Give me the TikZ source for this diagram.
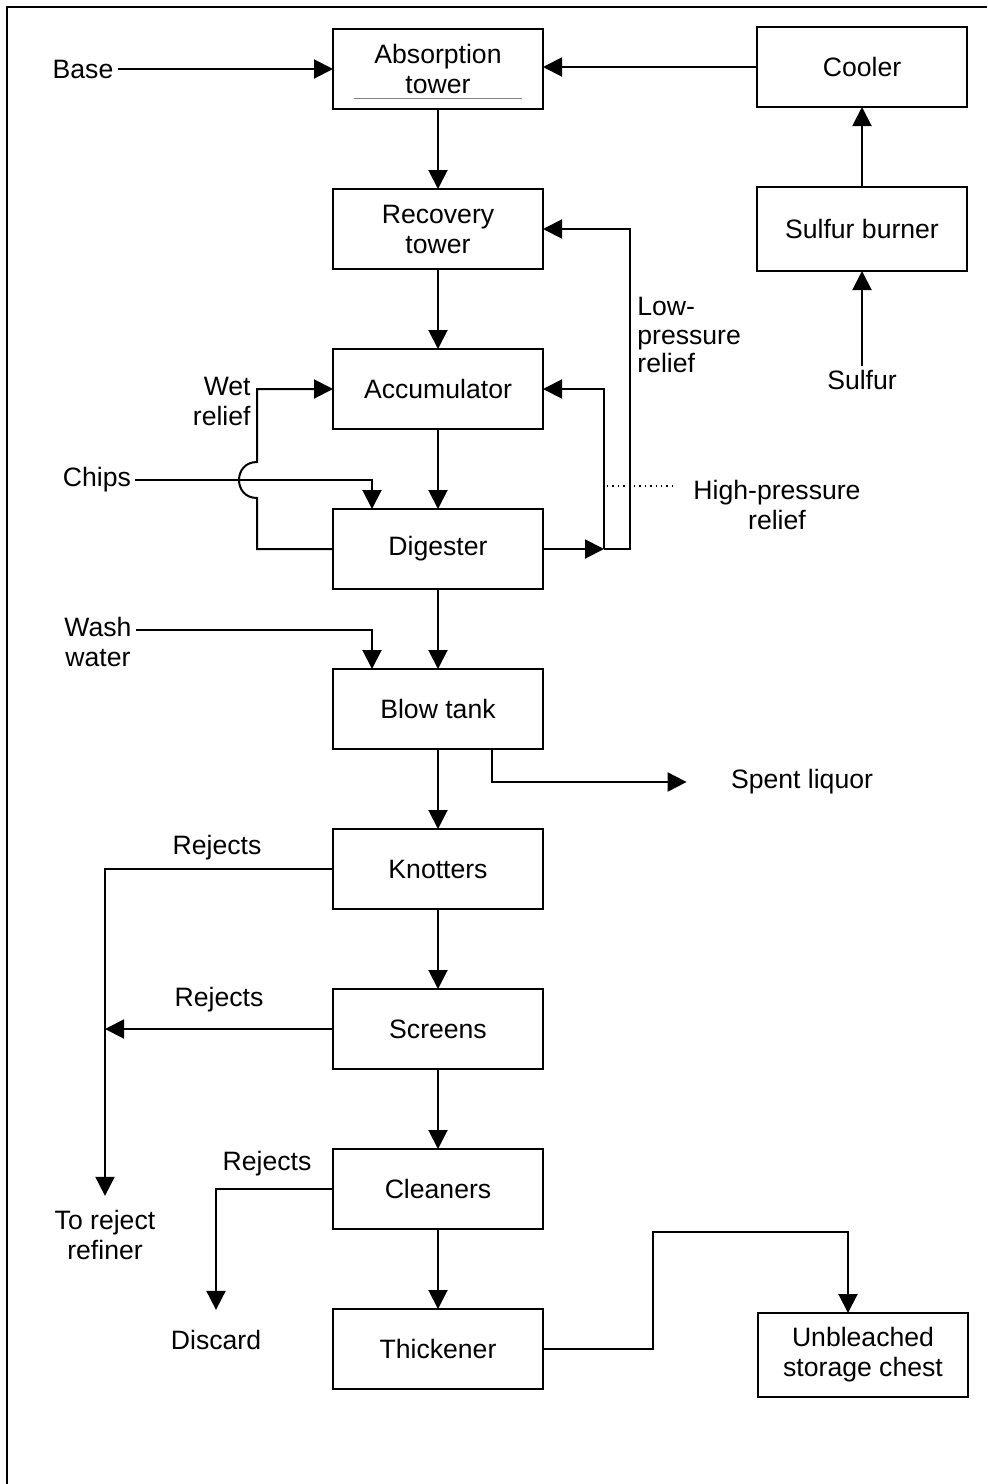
\documentclass[tikz,border=0pt]{standalone}
\usepackage{fontspec}
\setmainfont{Liberation Sans}
\usetikzlibrary{arrows.meta,positioning}

\begin{document}
\begin{tikzpicture}[
	   x=0.5pt, y=-0.5pt,
	   font=\fontsize{13.3pt}{15pt}\selectfont,
	   node distance=40pt,
	   box/.style    = { rectangle, draw, line width=1.2pt, minimum width=105pt,
	                     minimum height=40pt, inner sep=0pt, outer sep=0pt, align=center },
	   lbl/.style    = { inner sep=2pt, align=center },
	   flow/.style   = { draw, line width=1pt, -{Triangle[length=9.5pt,width=9.5pt]} },
	   leader/.style = { draw, line width=0.7pt, dotted },
	 ]
	  \useasboundingbox (0,0) rectangle (987,1484);
	  % frame
	  \draw[line width=1.2pt] (7,1484) -- (7,7) -- (987,7);

	  % main column
	  \node [box] (absorb) at (438,69) {Absorption\\tower};
	  \node [box, below=of absorb] (recovery) {Recovery\\tower};
	  \node [box, below=of recovery] (accum) {Accumulator};
	  \node [box, below=of accum] (digester) {Digester};
	  \node [box, below=of digester] (blow) {Blow tank};
	  \node [box, below=of blow] (knotters) {Knotters};
	  \node [box, below=of knotters] (screens) {Screens};
	  \node [box, below=of screens] (cleaners) {Cleaners};
	  \node [box, below=of cleaners] (thick) {Thickener};

	  % acid side
	  \node [box] (cooler) at (862,67) {Cooler};
	  \node [box, below=of cooler, minimum height=42pt] (burner) {Sulfur burner};
	  \node [box, minimum height=42pt] (chest) at (863,1355) {Unbleached\\storage chest};

	  % labels
	  \node [lbl] (base) at (83,69) {Base};
	  \node [lbl] (sulfur) at (862,380) {Sulfur};
	  \node [lbl] (chips) at (97,480) {Chips};
	  \node [lbl] (wash) at (98,642) {Wash\\water};
	  \node [lbl, anchor=east, align=right] (wet) at (255,401) {Wet\\relief};
	  \node [lbl, anchor=west, align=left, font=\fontsize{13.3pt}{14.2pt}\selectfont] (lowp) at (633,335) {Low-\\pressure\\relief};
	  \node [lbl] (highp) at (777,505) {High-pressure\\relief};
	  \node [lbl] (spent) at (802,782) {Spent liquor};
	  \node [lbl] (rej1) at (217,848) {Rejects};
	  \node [lbl] (rej2) at (219,1000) {Rejects};
	  \node [lbl] (rej3) at (267,1164) {Rejects};
	  \node [lbl] (refiner) at (105,1235) {To reject\\refiner};
	  \node [lbl] (discard) at (216,1340) {Discard};

	  \coordinate (hpj) at (digester.east -| 604,0);
	  \coordinate (wetx) at (257,0);
	  \coordinate (hop) at (wetx |- chips);

	  % underline in the tower box
	  \draw[gray, line width=0.5pt] ([xshift=10.5pt,yshift=5.5pt]absorb.south west) -- ([xshift=-10.5pt,yshift=5.5pt]absorb.south east);

	  % connect all nodes defined above
	  \path[flow] (base) -- (base -| absorb.west);
	  \path[flow] (cooler.west) -- (cooler.west -| absorb.east);
	  \path[flow] (burner) -- (cooler);
	  \path[flow] (sulfur) -- (burner);
	%
	  \path[flow] (absorb) -- (recovery);
	  \path[flow] (recovery) -- (accum);
	  \path[flow] (accum) -- (digester);
	  \path[flow] (digester) -- (blow);
	  \path[flow] (blow) -- (knotters);
	  \path[flow] (knotters) -- (screens);
	  \path[flow] (screens) -- (cleaners);
	  \path[flow] (cleaners) -- (thick);
	%
	  \path[flow] (chips) -| ([xshift=-33pt]digester.north);
	  \path[flow] ([yshift=6pt]wash.east) -| ([xshift=-33pt]blow.north);
	  \path[flow] (digester.west) -| ([yshift=-9pt]hop) .. controls +(-12pt,0) and +(-12pt,0) .. ([yshift=9pt]hop) |- (accum.west);
	%
	  \path[flow] (digester.east) -- (hpj);
	  \path[flow] (hpj) |- (accum.east);
	  \path[flow] (hpj) -- ++(26,0) |- (recovery.east);
	  \path[leader] (607,486) -- ([xshift=-6pt]highp.west |- 607,486);
	%
	  \path[flow] ([xshift=27pt]blow.south) |- ([xshift=-20pt]spent.west);
	  \path[flow, shorten >=5pt] (knotters.west) -| (refiner.north);
	  \path[flow] (screens.west) -- (screens.west -| refiner.north);
	  \path[flow, shorten >=8pt] (cleaners.west) -| (discard.north);
	  \path[flow] (thick.east) -| (653,1232) -| ([xshift=-7.5pt]chest.north);
	\end{tikzpicture}
\end{document}
